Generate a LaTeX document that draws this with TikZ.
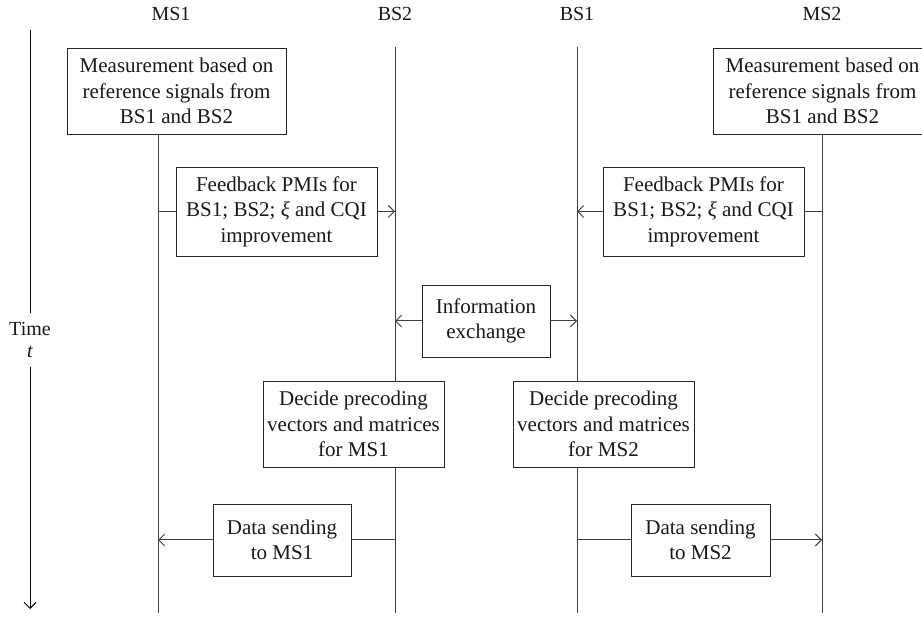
\documentclass[tikz,border=0pt]{standalone}
\usepackage{fontspec}
\setmainfont{Liberation Serif}
\usetikzlibrary{arrows.meta}
\begin{document}
\begin{tikzpicture}[x=1pt,y=-1pt,
  every node/.style={font=\fontsize{20}{25}\selectfont, text=black!90},
  box/.style={draw=black!85, line width=0.9pt, fill=white, align=center, inner sep=0pt, outer sep=0pt, font=\fontsize{21}{25.5}\selectfont},
  life/.style={draw=black!75, line width=1pt},
  msg/.style={draw=black!75, line width=1pt},
  arr/.style={-{Straight Barb[length=6pt,width=12pt]}}
]
\useasboundingbox (0,0) rectangle (922,617);
\clip (0,0) rectangle (922,617);

% headers
\node (hms1) at (171,14) {MS1};
\node (hbs2) at (395,14) {BS2};
\node (hbs1) at (577,14) {BS1};
\node (hms2) at (822,14) {MS2};

% lifeline coordinates
\coordinate (ms1b) at (158,613);
\coordinate (bs2t) at (395,47);
\coordinate (bs2b) at (395,613);
\coordinate (bs1t) at (577,47);
\coordinate (bs1b) at (577,613);
\coordinate (ms2b) at (822,613);

\draw[life] (bs2t) -- (bs2b);
\draw[life] (bs1t) -- (bs1b);

% time axis
\coordinate (tt) at (30,30);
\coordinate (tb) at (30,609);
\node[align=center, inner sep=0pt, minimum height=54pt] (time) at (30,340) {Time\\[-3pt]\textit{t}};
\draw[line width=1pt] (tt) -- (time.north);
\draw[line width=1pt, arr] (time.south) -- (tb);

% measurement boxes
\node[box, minimum width=219, minimum height=86] (m1) at (176.5,91) {Measurement based on\\reference signals from\\BS1 and BS2};
\node[box, minimum width=219, minimum height=86] (m2) at (822.5,91) {Measurement based on\\reference signals from\\BS1 and BS2};

\draw[life] (m1.south -| ms1b) -- (ms1b);
\draw[life] (m2.south -| ms2b) -- (ms2b);

% feedback
\node[box, minimum width=201, minimum height=89] (fb1) at (276.5,211.5) {Feedback PMIs for\\BS1; BS2; \textit{ξ} and CQI\\improvement};
\node[box, minimum width=201, minimum height=89] (fb2) at (703.5,211.5) {Feedback PMIs for\\BS1; BS2; \textit{ξ} and CQI\\improvement};
\draw[msg] (fb1.west -| ms1b) -- (fb1.west);
\draw[msg, arr] (fb1.east) -- (fb1.east -| bs2b);
\draw[msg] (fb2.east -| ms2b) -- (fb2.east);
\draw[msg, arr] (fb2.west) -- (fb2.west -| bs1b);

% information exchange
\node[box, minimum width=128, minimum height=72] (ie) at (486,321) {Information\\exchange};
\draw[msg, arr] (ie.west) -- (ie.west -| bs2b);
\draw[msg, arr] (ie.east) -- (ie.east -| bs1b);

% decide
\node[box, minimum width=181, minimum height=86] (dec1) at (353.5,424) {Decide precoding\\vectors and matrices\\for MS1};
\node[box, minimum width=181, minimum height=86] (dec2) at (603.5,424) {Decide precoding\\vectors and matrices\\for MS2};

% data sending
\node[box, minimum width=138, minimum height=72] (ds1) at (282,540) {Data sending\\to MS1};
\node[box, minimum width=139, minimum height=72] (ds2) at (700.5,540) {Data sending\\to MS2};
\draw[msg, arr] (ds1.west) -- (ds1.west -| ms1b);
\draw[msg] (ds1.east) -- (ds1.east -| bs2b);
\draw[msg] (ds2.west -| bs1b) -- (ds2.west);
\draw[msg, arr] (ds2.east) -- (ds2.east -| ms2b);
\end{tikzpicture}
\end{document}
